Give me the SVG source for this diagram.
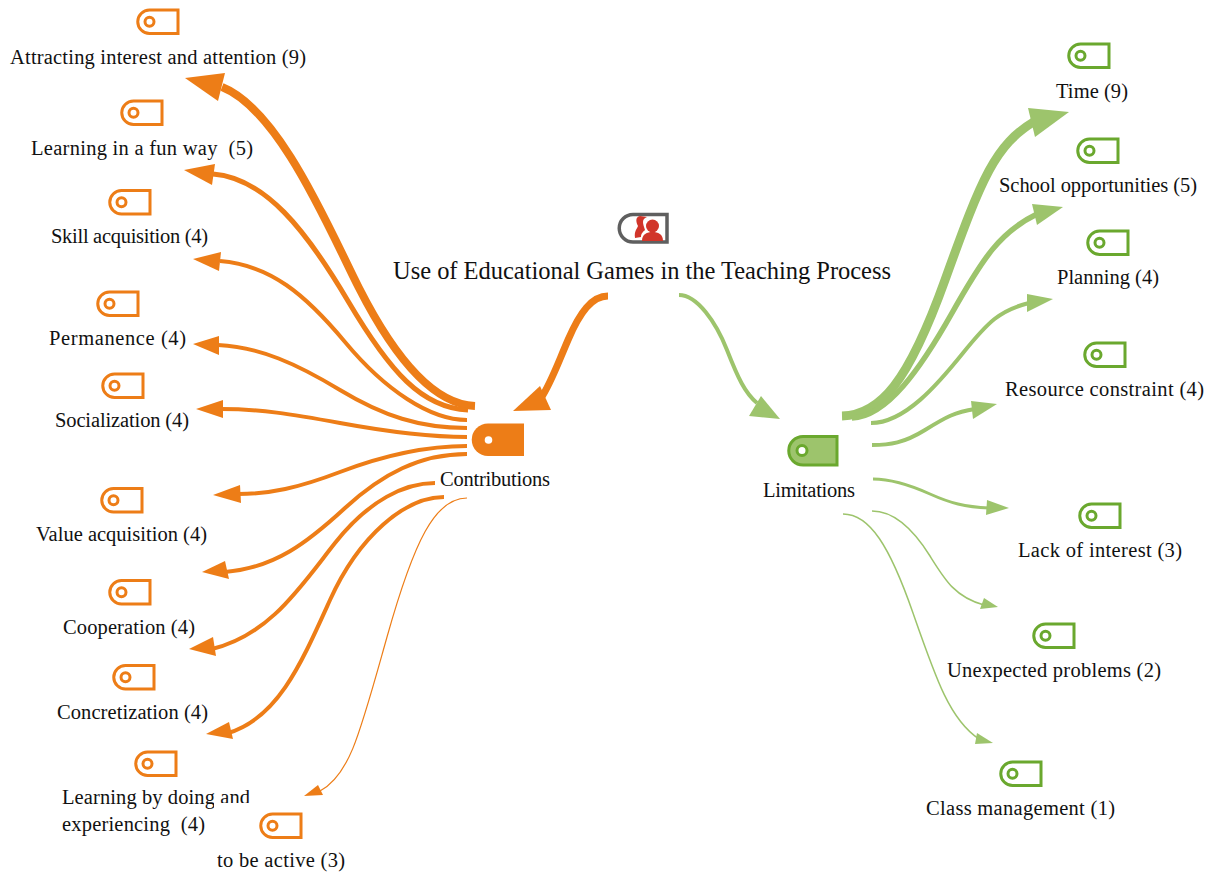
<svg xmlns="http://www.w3.org/2000/svg" width="1208" height="874" viewBox="0 0 1208 874">
<style>
text{font-family:"Liberation Serif","Times New Roman",serif;font-size:20.5px;fill:#111;text-anchor:middle;white-space:pre}
.title{font-size:24.5px}
.o,.g{fill:none;stroke-linecap:butt}
.o{stroke:#ed7d17}
.g{stroke:#9dc46c}
.oh{fill:#ed7d17}
.gh{fill:#9dc46c}
.tago{fill:#fff;stroke:#ed7d17;stroke-width:3}
.tagg{fill:#fff;stroke:#6aa82e;stroke-width:3}
.holeo{fill:#fff;stroke:#ed7d17;stroke-width:3}
.holeg{fill:#fff;stroke:#6aa82e;stroke-width:3}
</style>
<defs>
<g id="to"><path class="tago" d="M12.500,1.500H41V25H12.500A11.750,11.750 0 0 1 12.500,1.500Z"/><circle class="holeo" cx="12.500" cy="13.200" r="4.500"/></g>
<g id="tg"><path class="tagg" d="M12.500,1.500H41V25H12.500A11.750,11.750 0 0 1 12.500,1.500Z"/><circle class="holeg" cx="12.500" cy="13.200" r="4.500"/></g>
</defs>
<rect width="1208" height="874" fill="#fff"/>
<g id="connectors">
<path class="o" stroke-width="7" d="M608,296C592,296 580,312 568,340S550,385 541,398"/>
<polygon class="oh" points="513,411 540,386 551,410"/>
<path class="g" stroke-width="4" d="M679,295C697,295 716,322 727,350S745,393 757,403"/>
<polygon class="gh" points="780,419 749,416 761,396"/>
<path class="o" stroke-width="8" d="M475,406C428,404 388,345 359,288S280,110 222,87"/>
<polygon class="oh" points="185,78 225,73 218,101"/>
<path class="o" stroke-width="5" d="M468,410C422,408 390,372 348,301S265,178 213,174"/>
<polygon class="oh" points="184,170 215,164 212,185"/>
<path class="o" stroke-width="4" d="M467,420C430,420 385,390 345,342S270,265 220,261"/>
<polygon class="oh" points="193,259 221,252 219,271"/>
<path class="o" stroke-width="4" d="M467,428C420,428 383,416 340,390S260,347 218,345"/>
<polygon class="oh" points="193,344 219,336 219,355"/>
<path class="o" stroke-width="4" d="M467,437C430,437 389,432 340,423S260,409 221,409"/>
<polygon class="oh" points="196,409 223,400 223,418"/>
<path class="o" stroke-width="4" d="M467,446C425,446 382,456 340,472S270,494 238,494"/>
<polygon class="oh" points="213,495 240,485 241,503"/>
<path class="o" stroke-width="4" d="M467,454C420,454 382,474 345,508S275,568 225,572"/>
<polygon class="oh" points="202,572 225,561 229,579"/>
<path class="o" stroke-width="4" d="M435,483C405,483 369,500 335,543S270,635 212,649"/>
<polygon class="oh" points="189,649 213,637 216,656"/>
<path class="o" stroke-width="4" d="M444,497C405,497 359,536 330,600S278,718 228,733"/>
<polygon class="oh" points="206,734 229,722 233,739"/>
<path class="o" stroke-width="1.200" d="M467,498C435,498 414,541 387,637S350,775 320,791"/>
<polygon class="oh" points="304,796 318,785 323,795"/>
<path class="g" stroke-width="9" d="M842,416C880,415 908,383 945,280S995,145 1035,121"/>
<polygon class="gh" points="1069,112 1028,108 1035,137"/>
<path class="g" stroke-width="5.500" d="M852,418C887,417 921,368 952,313S1000,232 1037,214"/>
<polygon class="gh" points="1063,207 1032,204 1037,225"/>
<path class="g" stroke-width="4" d="M871,423C905,423 938,384 963,353S1000,310 1029,303"/>
<polygon class="gh" points="1053,299 1027,294 1027,312"/>
<path class="g" stroke-width="4" d="M872,445C890,445 904,443 925,430S955,412 975,409"/>
<polygon class="gh" points="997,404 971,401 973,419"/>
<path class="g" stroke-width="3" d="M873,479C890,479 910,485 930,494S965,507 989,508"/>
<polygon class="gh" points="1009,508 987,500 986,515"/>
<path class="g" stroke-width="1.500" d="M872,511C895,511 915,532 930,556S955,597 984,605"/>
<polygon class="gh" points="998,607 984,598 980,609"/>
<path class="g" stroke-width="1.500" d="M843,514C870,514 890,547 913,613S950,720 979,739"/>
<polygon class="gh" points="993,743 977,733 975,744"/>
</g>
<g id="n-center">
<path d="M633,214.500H667V242H633A13.750,13.750 0 0 1 633,214.500Z" fill="#fff" stroke="#5f5f5f" stroke-width="3.500"/>
<circle cx="652.500" cy="226" r="6.500" fill="#d1352a"/>
<path d="M642,241C642,234 647,232 652.500,232C658,232 663,234 663,241Z" fill="#d1352a"/>
<path d="M640,216C635,217 636,222 638,226C637,229 634,231 635,238L641,237C641,233 644,231 645,230C644,227 643,224 643,222C643,219 645,218 647,217Z" fill="#d1352a"/>
<text class="title" x="642" y="279" textLength="498">Use of Educational Games in the Teaching Process</text>
</g>
<g id="n-contributions">
<path d="M488,423.500H524V456H488A16.250,16.250 0 0 1 488,423.500Z" fill="#ed7d17"/>
<circle cx="488.500" cy="440" r="3.800" fill="#fff"/>
<text x="495" y="486" textLength="110">Contributions</text>
</g>
<g id="n-limitations">
<path d="M803,436.500H837V465H803A14.250,14.250 0 0 1 803,436.500Z" fill="#9dc46c" stroke="#6aa82e" stroke-width="3"/>
<circle cx="802" cy="450.500" r="5" fill="#fff" stroke="#6aa82e" stroke-width="3"/>
<text x="809" y="497" textLength="92">Limitations</text>
</g>
<g id="n-attract"><use href="#to" x="137" y="8.500"/><text x="158" y="64" textLength="296">Attracting interest and attention (9)</text></g>
<g id="n-fun"><use href="#to" x="121" y="99.500"/><text x="142" y="155" textLength="222">Learning in a fun way  (5)</text></g>
<g id="n-skill"><use href="#to" x="109" y="189"/><text x="129.500" y="243" textLength="157">Skill acquisition (4)</text></g>
<g id="n-permanence"><use href="#to" x="97" y="290.500"/><text x="117.500" y="345" textLength="137">Permanence (4)</text></g>
<g id="n-social"><use href="#to" x="102" y="372.500"/><text x="122" y="427" textLength="134">Socialization (4)</text></g>
<g id="n-value"><use href="#to" x="101" y="487"/><text x="121.500" y="541" textLength="171">Value acquisition (4)</text></g>
<g id="n-cooperation"><use href="#to" x="109" y="579"/><text x="129" y="634" textLength="132">Cooperation (4)</text></g>
<g id="n-concretization"><use href="#to" x="113" y="664"/><text x="132.500" y="719" textLength="151">Concretization (4)</text></g>
<g id="n-doing"><use href="#to" x="135" y="750.500"/>
<text x="156" y="804" textLength="188">Learning by doing and</text><text x="133.500" y="831" textLength="143">experiencing  (4)</text></g>
<g id="n-active"><rect x="214" y="803" width="134" height="71" fill="#fff"/><use href="#to" x="260" y="812.500"/><text x="281" y="867" textLength="128">to be active (3)</text></g>
<g id="n-time"><use href="#tg" x="1068" y="42.500"/><text x="1092" y="97.500" textLength="72">Time (9)</text></g>
<g id="n-school"><use href="#tg" x="1077" y="137.500"/><text x="1098" y="192" textLength="198">School opportunities (5)</text></g>
<g id="n-planning"><use href="#tg" x="1087" y="229.500"/><text x="1108" y="284" textLength="102">Planning (4)</text></g>
<g id="n-resource"><use href="#tg" x="1084" y="341.500"/><text x="1104.500" y="396" textLength="199">Resource constraint (4)</text></g>
<g id="n-lack"><use href="#tg" x="1079" y="502.500"/><text x="1100" y="557" textLength="164">Lack of interest (3)</text></g>
<g id="n-unexpected"><use href="#tg" x="1033" y="622.500"/><text x="1054" y="677" textLength="214">Unexpected problems (2)</text></g>
<g id="n-class"><use href="#tg" x="1000" y="760.500"/><text x="1020.500" y="815" textLength="189">Class management (1)</text></g>
</svg>
